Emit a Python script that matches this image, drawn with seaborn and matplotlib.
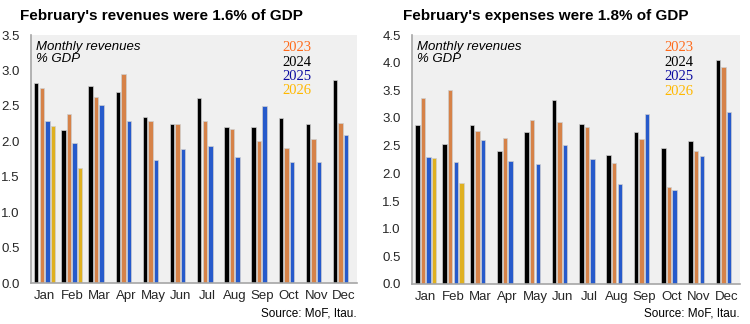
import numpy as np
import pandas as pd
import matplotlib
matplotlib.use("Agg")
import matplotlib.pyplot as plt
import seaborn as sns

months = ["Jan", "Feb", "Mar", "Apr", "May", "Jun", "Jul", "Aug", "Sep", "Oct", "Nov", "Dec"]
years = ["2024", "2023", "2025", "2026"]
legend_years = ["2023", "2024", "2025", "2026"]

rev_2023 = [2.75, 2.39, 2.62, 2.95, 2.29, 2.24, 2.28, 2.18, 2.00, 1.91, 2.03, 2.26]
rev_2024 = [2.82, 2.16, 2.78, 2.69, 2.34, 2.24, 2.61, 2.20, 2.20, 2.33, 2.24, 2.86]
rev_2025 = [2.28, 1.98, 2.51, 2.28, 1.73, 1.89, 1.94, 1.78, 2.50, 1.71, 1.71, 2.09]
rev_2026 = [2.21, 1.63]

exp_2023 = [3.37, 3.50, 2.76, 2.64, 2.97, 2.92, 2.83, 2.18, 2.62, 1.76, 2.40, 3.93]
exp_2024 = [2.87, 2.53, 2.87, 2.40, 2.74, 3.33, 2.89, 2.34, 2.74, 2.46, 2.58, 4.04]
exp_2025 = [2.29, 2.21, 2.61, 2.22, 2.17, 2.52, 2.26, 1.80, 3.07, 1.70, 2.32, 3.11]
exp_2026 = [2.27, 1.82]

rev_title = "February's revenues were 1.6% of GDP"
exp_title = "February's expenses were 1.8% of GDP"
note = "Monthly revenues\n% GDP"
source = "Source: MoF, Itau."

bar_colors = {"2024": "#000000", "2023": "#ED7D31", "2025": "#0A50E6", "2026": "#FFC000"}
text_colors = {"2023": "#FF6A1A", "2024": "#000000", "2025": "#0A0AA0", "2026": "#FFB800"}


def to_df(s23, s24, s25, s26):
    rows = []
    for y, vals in zip(["2023", "2024", "2025", "2026"], [s23, s24, s25, s26]):
        for i, m in enumerate(months):
            v = vals[i] if i < len(vals) else np.nan
            rows.append({"month": m, "year": y, "value": v})
    return pd.DataFrame(rows)


sns.set_theme(style="white")
plt.rcParams["font.family"] = ["Liberation Sans", "DejaVu Sans"]

fig = plt.figure(figsize=(7.5, 3.24), dpi=100)
fig.patch.set_facecolor("white")

axes_specs = [
    ([31 / 750, 41 / 324, 326 / 750, 248 / 324], to_df(rev_2023, rev_2024, rev_2025, rev_2026), 3.5, rev_title, 20),
    ([412 / 750, 40 / 324, 328 / 750, 249 / 324], to_df(exp_2023, exp_2024, exp_2025, exp_2026), 4.5, exp_title, 403),
]

for rect, df, ymax, title, tx in axes_specs:
    ax = fig.add_axes(rect)
    ax.set_facecolor("#F0F0F0")
    sns.barplot(data=df, x="month", y="value", hue="year", hue_order=years,
                order=months, palette=bar_colors, ax=ax, width=0.82, gap=0.2,
                edgecolor="#CFCFCF", linewidth=0.5, legend=False, errorbar=None)
    ax.set_ylim(0, ymax)
    ticks = np.arange(0, ymax + 0.01, 0.5)
    ax.set_yticks(ticks)
    ax.set_yticklabels([f"{v:.1f}" for v in ticks], fontsize=9.5)
    ax.set_xlim(-0.5, 11.5)
    ax.tick_params(axis="x", labelsize=9.5, length=0, pad=5)
    ax.tick_params(axis="y", length=0, pad=8)
    ax.set_xlabel("")
    ax.set_ylabel("")
    for s in ["top", "right"]:
        ax.spines[s].set_visible(False)
    for s in ["left", "bottom"]:
        ax.spines[s].set_color("#A6A6A6")
        ax.spines[s].set_linewidth(1.2)
    ax.text(0.015, 0.975, note, transform=ax.transAxes, ha="left", va="top",
            fontsize=9.5, fontstyle="italic", linespacing=1.0, color="#000000")
    for k, y in enumerate(legend_years):
        ax.text(0.77, 0.975 - k * 0.058, y, transform=ax.transAxes, ha="left", va="top",
                fontsize=10.5, family=["Liberation Serif", "DejaVu Serif"],
                color=text_colors[y])
    fig.text(tx / 750, 1 - 16 / 324, title, ha="left", va="center", fontsize=11,
             fontweight="bold", color="#000000")
    pos = ax.get_position()
    fig.text(pos.x1, 11 / 324, source, ha="right", va="center", fontsize=8.5, color="#000000")

fig.savefig("out.png", dpi=100, facecolor="white")
